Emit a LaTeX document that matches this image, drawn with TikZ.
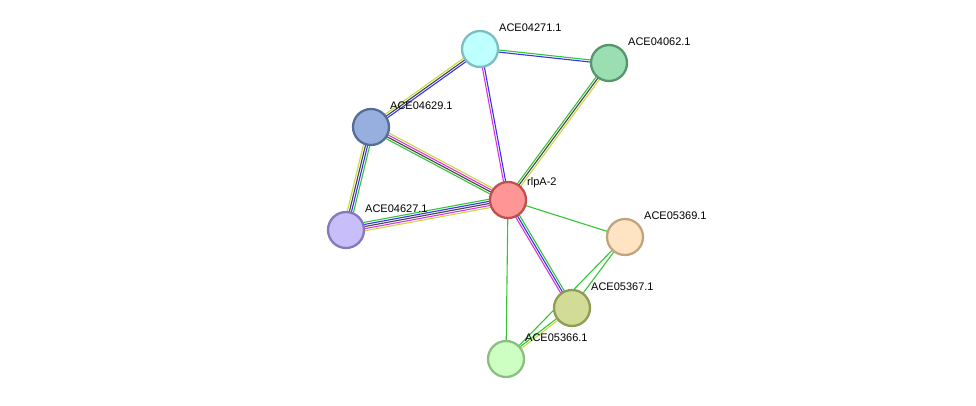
\documentclass[tikz,border=0pt]{standalone}
\usepackage{fontspec}
\setmainfont{Liberation Sans}
\usetikzlibrary{calc,backgrounds}
\definecolor{eg}{HTML}{33C633}
\definecolor{eb}{HTML}{3333F0}
\definecolor{em}{HTML}{DD33DD}
\definecolor{ey}{HTML}{C8D840}
\definecolor{ek}{HTML}{444444}
\newcommand\sedge[4]{%
  \foreach \cc [count=\ii] in {#4}{%
    \pgfmathsetmacro\off{(\ii-(#3+1)/2)*2.1}
    \draw[\cc,line width=1.1pt] ($(#1)!\off pt!90:(#2)$) -- ($(#2)!\off pt!-90:(#1)$);
  }}
\tikzset{
  prot/.style={circle,minimum size=36pt,inner sep=0pt,line width=2.3pt},
  lab/.style={anchor=base west,font=\fontsize{11pt}{11pt}\selectfont,inner sep=0pt}
}
\begin{document}
\begin{tikzpicture}[x=1pt,y=-1pt]
\useasboundingbox (0,0) rectangle (976,405);
\node[prot,fill={rgb,255:red,255;green,150;blue,150},draw={rgb,255:red,190;green,80;blue,80}] (r) at (508,200) {};
\node[prot,fill={rgb,255:red,190;green,255;blue,255},draw={rgb,255:red,125;green,190;blue,190}] (a) at (480,49) {};
\node[prot,fill={rgb,255:red,155;green,222;blue,178},draw={rgb,255:red,85;green,150;blue,110}] (b) at (609,63) {};
\node[prot,fill={rgb,255:red,150;green,175;blue,222},draw={rgb,255:red,85;green,110;blue,150}] (c) at (371,127) {};
\node[prot,fill={rgb,255:red,200;green,190;blue,250},draw={rgb,255:red,135;green,120;blue,190}] (d) at (346,230) {};
\node[prot,fill={rgb,255:red,255;green,228;blue,195},draw={rgb,255:red,190;green,165;blue,125}] (e) at (625,237) {};
\node[prot,fill={rgb,255:red,210;green,220;blue,150},draw={rgb,255:red,145;green,155;blue,85}] (f) at (572,308) {};
\node[prot,fill={rgb,255:red,205;green,255;blue,195},draw={rgb,255:red,140;green,190;blue,130}] (g) at (506,359) {};
\begin{scope}[on background layer]
\sedge{a}{b}{2}{eb,eg}
\sedge{c}{a}{3}{eb,ek,ey}
\sedge{a}{r}{2}{em,eb}
\sedge{b}{r}{3}{eg,ek,ey}
\sedge{c}{r}{4}{eg,ek,em,ey}
\sedge{c}{d}{4}{ey,ek,eb,eg}
\sedge{d}{r}{5}{ey,em,ek,eb,eg}
\sedge{r}{e}{1}{eg}
\sedge{r}{f}{3}{em,eb,eg}
\sedge{r}{g}{1}{eg}
\sedge{e}{f}{1}{eg}
\sedge{e}{g}{1}{eg}
\sedge{f}{g}{2}{eg,ey}
\end{scope}
\node[lab] at ($(r)+(19,-15)$) {rlpA-2};
\node[lab] at ($(a)+(19,-18)$) {ACE04271.1};
\node[lab] at ($(b)+(19,-18)$) {ACE04062.1};
\node[lab] at ($(c)+(19,-18)$) {ACE04629.1};
\node[lab] at ($(d)+(19,-18)$) {ACE04627.1};
\node[lab] at ($(e)+(19,-18)$) {ACE05369.1};
\node[lab] at ($(f)+(19,-18)$) {ACE05367.1};
\node[lab] at ($(g)+(19,-18)$) {ACE05366.1};
\end{tikzpicture}
\end{document}
